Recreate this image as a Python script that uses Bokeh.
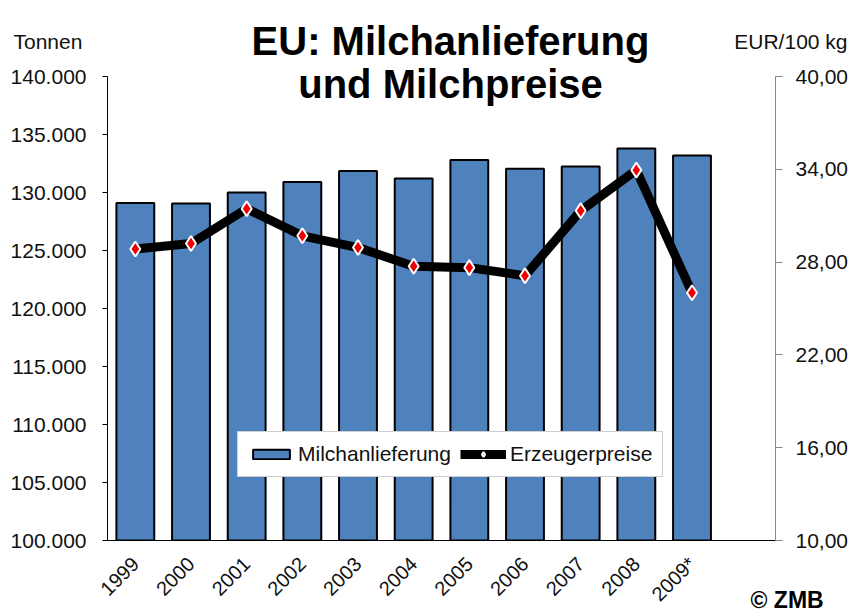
import math
from bokeh.plotting import figure
from bokeh.models import (Range1d, LinearAxis, FixedTicker, Label, Legend,
                          LegendItem, ColumnDataSource, GridBox, Column)
from bokeh.embed import file_html
from bokeh.resources import INLINE

# ---- data ----
years = ["1999", "2000", "2001", "2002", "2003", "2004", "2005", "2006", "2007", "2008", "2009*"]
milk_tonnes = [129100, 129050, 130000, 130900, 131850, 131200, 132800, 132050, 132250, 133800, 133200]
price_eur = [28.85, 29.2, 31.45, 29.7, 28.94, 27.73, 27.64, 27.12, 31.32, 33.95, 26.02]
left_ticks = [100000, 105000, 110000, 115000, 120000, 125000, 130000, 135000, 140000]
left_tick_labels = ["100.000", "105.000", "110.000", "115.000", "120.000", "125.000", "130.000", "135.000", "140.000"]
right_ticks = [10, 16, 22, 28, 34, 40]
right_tick_labels = ["10,00", "16,00", "22,00", "28,00", "34,00", "40,00"]
title_lines = ["EU: Milchanlieferung", "und Milchpreise"]
left_unit = "Tonnen"
right_unit = "EUR/100 kg"
credit = "© ZMB"
series_names = ["Milchanlieferung", "Erzeugerpreise"]

FONT = "Liberation Sans"
TXT = "#111111"
W, H = 852, 616
xs = list(range(len(years)))
src = ColumnDataSource(dict(x=xs, milk=milk_tonnes, price=price_eur))

p = figure(width=W, height=H, output_backend="svg", toolbar_location=None,
           title=None,
           x_range=Range1d(-0.5, 11.5), y_range=Range1d(left_ticks[0], left_ticks[-1]),
           min_border_left=107, min_border_right=77, min_border_top=76, min_border_bottom=76)
p.extra_y_ranges = {"price": Range1d(right_ticks[0], right_ticks[-1])}
p.xgrid.visible = False
p.ygrid.visible = False
p.outline_line_color = None
p.background_fill_color = "white"
p.border_fill_color = "white"

# x axis
xa = p.xaxis[0]
xa.ticker = FixedTicker(ticks=xs)
xa.major_label_overrides = {i: y for i, y in enumerate(years)}
xa.major_label_orientation = math.pi / 4
xa.major_tick_out = 0
xa.major_tick_in = 0
xa.minor_tick_out = 0
xa.minor_tick_in = 0
xa.axis_line_color = "black"
xa.major_label_text_font = FONT
xa.major_label_text_font_size = "20px"
xa.major_label_text_color = TXT
xa.major_label_standoff = 20

# left axis
ya = p.yaxis[0]
ya.ticker = FixedTicker(ticks=left_ticks)
ya.major_label_overrides = {t: l for t, l in zip(left_ticks, left_tick_labels)}
ya.major_tick_out = 5
ya.major_tick_in = 0
ya.minor_tick_out = 0
ya.minor_tick_in = 0
ya.axis_line_color = "black"
ya.major_tick_line_color = "black"
ya.major_label_text_font = FONT
ya.major_label_text_font_size = "21px"
ya.major_label_text_color = TXT
ya.major_label_standoff = 16

# right axis
ra = LinearAxis(y_range_name="price", ticker=FixedTicker(ticks=right_ticks))
ra.major_label_overrides = {t: l for t, l in zip(right_ticks, right_tick_labels)}
ra.major_tick_out = 7
ra.major_tick_in = 0
ra.minor_tick_out = 0
ra.minor_tick_in = 0
ra.axis_line_color = "#868686"
ra.major_tick_line_color = "#868686"
ra.major_label_text_font = FONT
ra.major_label_text_font_size = "21px"
ra.major_label_text_color = TXT
ra.major_label_standoff = 13
p.add_layout(ra, "right")

# glyphs
bars = p.vbar(x="x", top="milk", bottom=left_ticks[0], width=0.68, source=src,
              fill_color="#4F81BD", line_color="black", line_width=2)
ln = p.line(x="x", y="price", source=src, y_range_name="price",
            line_color="black", line_width=9, line_join="round")
sc = p.scatter(x="x", y="price", source=src, y_range_name="price", marker="diamond",
               size=15, fill_color="#ee0000", line_color="white", line_width=2)

legend = Legend(items=[LegendItem(label=series_names[0], renderers=[bars]),
                       LegendItem(label=series_names[1], renderers=[ln, sc])],
                location=(130, 63), orientation="horizontal",
                label_text_font=FONT, label_text_font_size="21px", label_text_color=TXT,
                glyph_width=46, glyph_height=12, label_standoff=4, spacing=9,
                padding=10, margin=0, border_line_color="#a0a0a0", border_line_width=1,
                background_fill_color="white", background_fill_alpha=1.0)
p.add_layout(legend)

# ---- transparent overlay for free-standing texts (page pixel coordinates) ----
ov = figure(width=W, height=H, output_backend="svg", toolbar_location=None, title=None,
            x_range=Range1d(0, W), y_range=Range1d(H, 0),
            x_axis_location=None, y_axis_location=None,
            min_border_left=0, min_border_right=0, min_border_top=0, min_border_bottom=0)
ov.xgrid.visible = False
ov.ygrid.visible = False
ov.outline_line_color = None
ov.background_fill_color = None
ov.border_fill_color = None

def add_text(x, y, text, size, align, bold=False):
    ov.add_layout(Label(x=x, y=y, text=text, text_font=FONT, text_font_size=size,
                        text_font_style="bold" if bold else "normal", text_align=align,
                        text_baseline="alphabetic", text_color="black" if bold else TXT))

add_text(450, 40, title_lines[0], "40px", "center", bold=True)
add_text(450, 83, title_lines[1], "40px", "center", bold=True)
add_text(13, 41, left_unit, "21px", "left")
add_text(847, 41, right_unit, "21px", "right")
add_text(750, 599, credit, "23px", "left", bold=True)

layout = GridBox(children=[(p, 0, 0), (Column(children=[ov]), 0, 0)])
open("out.html", "w").write(file_html(layout, INLINE))
